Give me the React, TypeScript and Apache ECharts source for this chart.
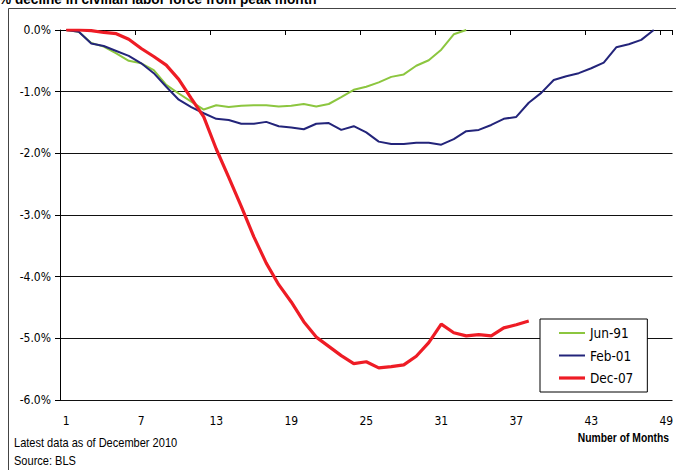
import React, { useEffect, useRef } from "react";
import * as echarts from "echarts";

// Months since the labor-force peak (1 = peak month)
const months: string[] = Array.from({ length: 49 }, (_, i) => String(i + 1));

// % decline in civilian labor force from peak month, by recession
const jun91: number[] = [
  0, -0.03, -0.21, -0.27, -0.38, -0.5, -0.54, -0.65, -0.89, -1.03, -1.16, -1.29,
  -1.22, -1.25, -1.23, -1.22, -1.22, -1.24, -1.23, -1.2, -1.24, -1.2, -1.09, -0.97,
  -0.92, -0.85, -0.76, -0.72, -0.58, -0.49, -0.32, -0.07, 0.0,
];
const feb01: number[] = [
  0, -0.03, -0.22, -0.26, -0.34, -0.42, -0.54, -0.7, -0.92, -1.13, -1.25, -1.35,
  -1.44, -1.46, -1.52, -1.52, -1.49, -1.56, -1.58, -1.61, -1.52, -1.51, -1.62, -1.56,
  -1.66, -1.81, -1.85, -1.85, -1.83, -1.83, -1.86, -1.77, -1.64, -1.62, -1.54, -1.44,
  -1.41, -1.18, -1.02, -0.81, -0.75, -0.7, -0.62, -0.53, -0.28, -0.23, -0.16, 0.0,
];
const dec07: number[] = [
  0, 0, -0.01, -0.04, -0.06, -0.15, -0.3, -0.43, -0.57, -0.8, -1.11, -1.41,
  -1.93, -2.39, -2.86, -3.35, -3.78, -4.13, -4.41, -4.73, -4.98, -5.13, -5.28, -5.41,
  -5.38, -5.48, -5.46, -5.43, -5.29, -5.07, -4.77, -4.91, -4.96, -4.94, -4.96, -4.83,
  -4.78, -4.72,
];

const seriesNames = ["Jun-91", "Feb-01", "Dec-07"];
const seriesColors = ["#8cc63f", "#23247a", "#ee1c25"];
const seriesWidths = [2, 2, 3.2];

const yTicks = { min: -6, max: 0, interval: 1 };

const titleText = "% decline in civilian labor force from peak month";
const noteText = "Latest data as of December 2010";
const sourceText = "Source: BLS";
const xAxisTitle = "Number of Months";

const AXIS_FONT = "'DejaVu Sans Condensed', 'Liberation Sans', sans-serif";
// Liberation Sans squeezed horizontally stands in for a narrow face
const NARROW = "'Liberation Sans', Arial, sans-serif";

export default function App() {
  const ref = useRef<HTMLDivElement>(null);

  useEffect(() => {
    if (!ref.current) return;
    const chart = echarts.init(ref.current, null, { renderer: "svg" });

    const dataSets = [jun91, feb01, dec07];

    chart.setOption({
      animation: false,
      backgroundColor: "#ffffff",
      textStyle: { fontFamily: AXIS_FONT, color: "#000" },
      grid: {
        left: 60,
        top: 30,
        right: 3.5,
        bottom: 70,
        containLabel: false,
        outerBoundsMode: "none",
      },
      legend: {
        data: seriesNames.map((n, i) => ({
          name: n,
          icon: i === 2 ? "path://M0,0H26V3.2H0Z" : "path://M0,0H26V2H0Z",
        })),
        orient: "vertical",
        left: 540,
        top: 319,
        width: 104,
        itemWidth: 26,
        itemHeight: 14,
        itemGap: 8.5,
        symbolKeepAspect: true,
        padding: [7, 14, 7, 19],
        backgroundColor: "#ffffff",
        borderColor: "#000",
        borderWidth: 1,
        borderRadius: 0,
        textStyle: { fontFamily: AXIS_FONT, fontSize: 13.5, color: "#000", lineHeight: 14 },
      },
      xAxis: [
        {
          type: "category",
          data: months,
          position: "bottom",
          boundaryGap: true,
          axisLine: { show: false },
          axisTick: { show: false },
          axisLabel: {
            interval: 5,
            fontFamily: AXIS_FONT,
            fontSize: 12,
            color: "#000",
            margin: 15,
          },
        },
        {
          type: "category",
          data: months,
          position: "top",
          boundaryGap: true,
          axisLine: { show: true, lineStyle: { color: "#000", width: 1 } },
          axisTick: {
            show: true,
            inside: true,
            interval: 5,
            length: 5,
            lineStyle: { color: "#000" },
          },
          axisLabel: { show: false },
        },
      ],
      yAxis: {
        type: "value",
        min: yTicks.min,
        max: yTicks.max,
        interval: yTicks.interval,
        axisLine: { show: true, lineStyle: { color: "#000", width: 1 } },
        axisTick: { show: true, length: 5, lineStyle: { color: "#000" } },
        splitLine: { show: true, lineStyle: { color: "#111", width: 1 } },
        axisLabel: {
          fontFamily: AXIS_FONT,
          fontSize: 12,
          color: "#000",
          margin: 9,
          formatter: (v: number) => v.toFixed(1) + "%",
        },
      },
      series: dataSets.map((d, i) => ({
        name: seriesNames[i],
        type: "line",
        data: d,
        xAxisIndex: 0,
        symbol: "none",
        showSymbol: false,
        z: 3 + i,
        lineStyle: { color: seriesColors[i], width: seriesWidths[i] },
        itemStyle: { color: seriesColors[i] },
      })),
      graphic: [
        {
          type: "line",
          shape: { x1: 8.5, y1: 8.5, x2: 676, y2: 8.5 },
          style: { stroke: "#444", lineWidth: 1 },
        },
        {
          type: "line",
          shape: { x1: 8.5, y1: 8.5, x2: 8.5, y2: 470 },
          style: { stroke: "#444", lineWidth: 1 },
        },
        {
          type: "text",
          x: -1,
          y: -9,
          scaleX: 0.91,
          style: {
            text: titleText,
            fontFamily: NARROW,
            fontWeight: "bold",
            fontSize: 15,
            fill: "#000",
          },
        },
        {
          type: "text",
          x: 14,
          y: 436,
          scaleX: 0.85,
          style: { text: noteText, fontFamily: NARROW, fontSize: 13, fill: "#000" },
        },
        {
          type: "text",
          x: 14,
          y: 454,
          scaleX: 0.85,
          style: { text: sourceText, fontFamily: NARROW, fontSize: 13, fill: "#000" },
        },
        {
          type: "text",
          x: 669,
          y: 432,
          scaleX: 0.86,
          style: {
            text: xAxisTitle,
            fontFamily: NARROW,
            fontWeight: "bold",
            fontSize: 12,
            fill: "#000",
            align: "right",
          },
        },
      ],
    });

    return () => chart.dispose();
  }, []);

  return (
    <div
      ref={ref}
      style={{ position: "fixed", left: 0, top: 0, width: 676, height: 470 }}
    />
  );
}
